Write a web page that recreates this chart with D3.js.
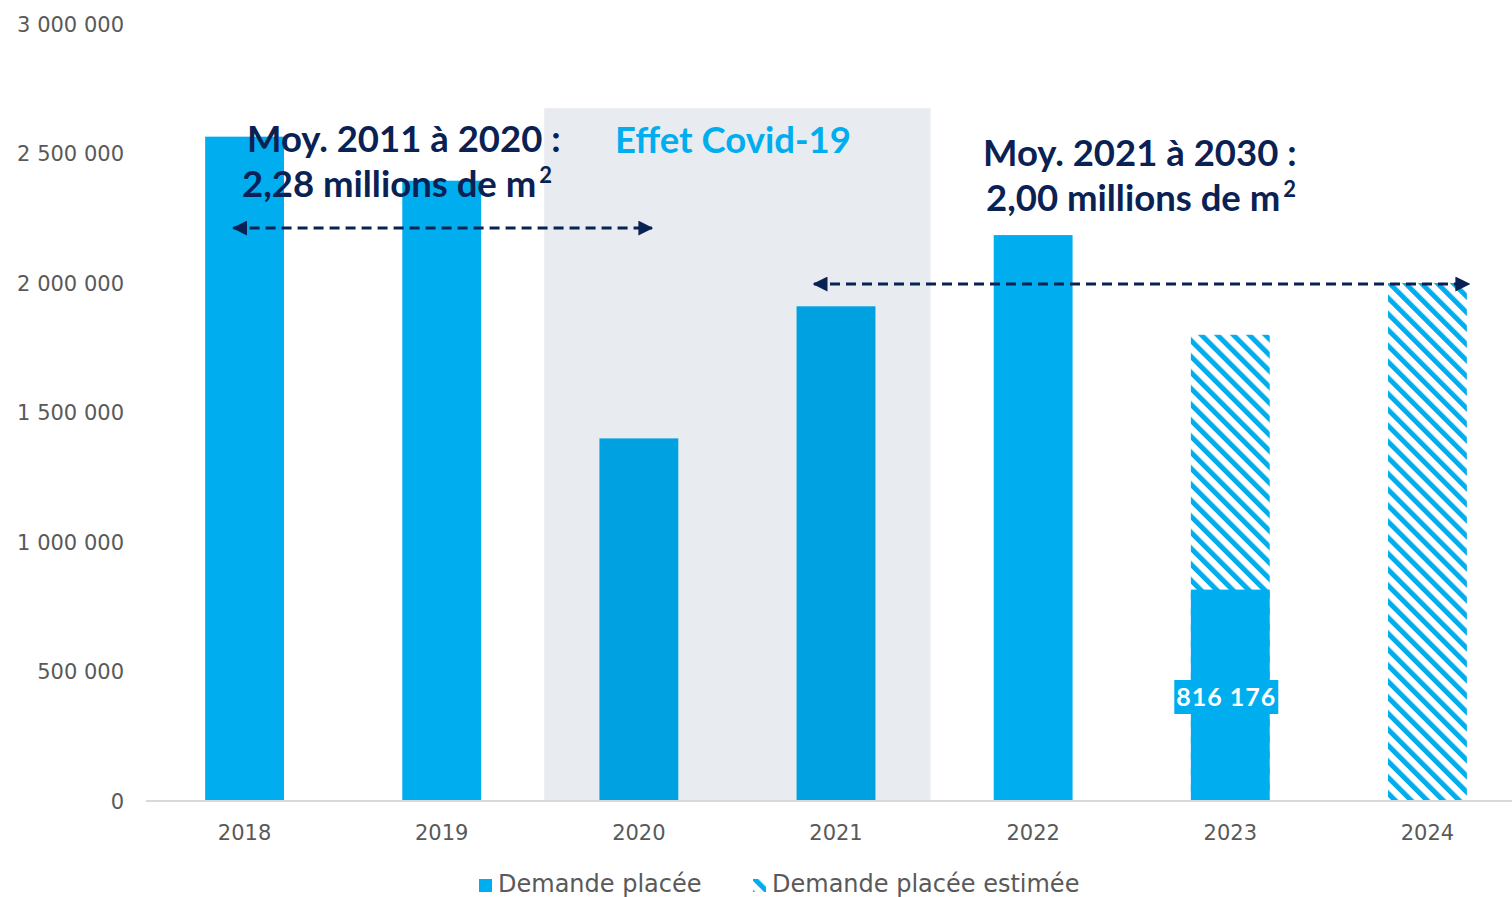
<!DOCTYPE html>
<html>
<head>
<meta charset="utf-8">
<script src="https://cdn.jsdelivr.net/npm/d3@7"></script>
<style>
  html, body { margin: 0; padding: 0; background: #fff; }
  svg { display: block; }
  .tick text { font-family: "DejaVu Sans", sans-serif; fill: #595959; }
</style>
</head>
<body>
<svg id="chart"></svg>
<script>
// data
const years = ['2018', '2019', '2020', '2021', '2022', '2023', '2024'];
const demande = [2565000, 2395000, 1400000, 1910000, 2185000, 816176, null];
const estimee = [null, null, null, null, null, 1800000, 2000000];
const covidYears = ['2020', '2021'];
const yTicks = [0, 500000, 1000000, 1500000, 2000000, 2500000, 3000000];
const labelled = [{ year: '2023', value: 816176 }];

const width = 1512;
const height = 897;
const margin = { top: 24, right: -14, bottom: 96, left: 146 };

const blue = '#00aeef';
const navy = '#0a2253';

const fr = d3.formatLocale({ decimal: ',', thousands: ' ', grouping: [3], currency: ['', ' €'] });
const fmt = fr.format(',d');

const svg = d3.select('#chart')
    .attr('width', width)
    .attr('height', height);

const defs = svg.append('defs');
defs.append('pattern')
    .attr('id', 'hatch')
    .attr('patternUnits', 'userSpaceOnUse')
    .attr('width', 11.3)
    .attr('height', 11.3)
    .attr('patternTransform', 'rotate(-45)')
  .append('rect')
    .attr('x', 0)
    .attr('y', 0)
    .attr('width', 5)
    .attr('height', 11.3)
    .attr('fill', blue);

defs.append('marker')
    .attr('id', 'arrow')
    .attr('viewBox', '0 0 10 10')
    .attr('refX', 9)
    .attr('refY', 5)
    .attr('markerWidth', 5)
    .attr('markerHeight', 5)
    .attr('markerUnits', 'strokeWidth')
    .attr('orient', 'auto-start-reverse')
  .append('path')
    .attr('d', 'M0,0 L10,5 L0,10 z')
    .attr('fill', navy);

const x = d3.scaleBand()
    .domain(years)
    .range([margin.left, width - margin.right])
    .paddingInner(0.6)
    .paddingOuter(0.3);

const y = d3.scaleLinear()
    .domain([0, 3000000])
    .range([height - margin.bottom, margin.top]);

// axes
const yAxis = d3.axisLeft(y)
    .tickValues(yTicks)
    .tickFormat(fmt)
    .tickSize(0)
    .tickPadding(22);

svg.append('g')
    .attr('transform', 'translate(' + margin.left + ',0)')
    .call(yAxis)
    .call(g => g.select('.domain').remove())
    .call(g => g.selectAll('text').attr('font-size', 21).attr('dy', '0.35em'));

const xAxis = d3.axisBottom(x).tickSize(0).tickPadding(24);

const bars = svg.append('g');

// estimated (hatched) bars
bars.selectAll('rect.est')
    .data(years.map((d, i) => ({ year: d, value: estimee[i] })).filter(d => d.value != null))
  .enter().append('rect')
    .attr('class', 'est')
    .attr('x', d => x(d.year))
    .attr('width', x.bandwidth())
    .attr('y', d => y(d.value))
    .attr('height', d => y(0) - y(d.value))
    .attr('fill', 'url(#hatch)');

// actual bars
bars.selectAll('rect.bar')
    .data(years.map((d, i) => ({ year: d, value: demande[i] })).filter(d => d.value != null))
  .enter().append('rect')
    .attr('class', 'bar')
    .attr('x', d => x(d.year))
    .attr('width', x.bandwidth())
    .attr('y', d => y(d.value))
    .attr('height', d => y(0) - y(d.value))
    .attr('fill', blue);

// covid shading, over the bars
const covidTop = 2675000;
const covidX0 = x(covidYears[0]) - x.step() * 0.28;
const covidX1 = x(covidYears[covidYears.length - 1]) + x.bandwidth() + x.step() * 0.28;
svg.append('rect')
    .attr('x', covidX0)
    .attr('y', y(covidTop))
    .attr('width', covidX1 - covidX0)
    .attr('height', y(0) - y(covidTop))
    .attr('fill', 'rgb(0,33,89)')
    .attr('fill-opacity', 0.09);

svg.append('g')
    .attr('transform', 'translate(0,' + y(0) + ')')
    .call(xAxis)
    .call(g => g.select('.domain')
        .attr('d', 'M' + margin.left + ',0H' + width)
        .attr('stroke', '#d9d9d9')
        .attr('stroke-width', 2))
    .call(g => g.selectAll('text').attr('font-size', 21));

// value label
const lab = svg.append('g').selectAll('g')
    .data(labelled)
  .enter().append('g')
    .attr('transform', d => 'translate(' + (x(d.year) + x.bandwidth() / 2 - 4) + ',' + (y(0) - 104) + ')');
lab.append('rect')
    .attr('x', -52)
    .attr('y', -17)
    .attr('width', 104)
    .attr('height', 34)
    .attr('fill', blue);
lab.append('text')
    .attr('text-anchor', 'middle')
    .attr('dy', '0.36em')
    .attr('font-family', 'Lato, sans-serif')
    .attr('font-weight', 700)
    .attr('font-size', 25)
    .attr('letter-spacing', 1)
    .attr('fill', '#fff')
    .text(d => fmt(d.value));

// average arrows
const arrows = [
  { x0: x('2018') + x.bandwidth() / 2 - 11, x1: x('2020') + x.bandwidth() / 2 + 13, value: 2212000 },
  { x0: x('2021') + x.bandwidth() / 2 - 22, x1: x('2024') + x.bandwidth() + 2, value: 1996000 }
];
svg.append('g').selectAll('line')
    .data(arrows)
  .enter().append('line')
    .attr('x1', d => d.x0)
    .attr('x2', d => d.x1)
    .attr('y1', d => y(d.value))
    .attr('y2', d => y(d.value))
    .attr('stroke', navy)
    .attr('stroke-width', 3)
    .attr('stroke-dasharray', '10 6')
    .attr('marker-start', 'url(#arrow)')
    .attr('marker-end', 'url(#arrow)');

// annotations
const note = (tx, ty, lines, color) => {
  const t = svg.append('text')
      .attr('font-family', 'Lato, sans-serif')
      .attr('font-weight', 700)
      .attr('font-size', 36.5)
      .attr('fill', color);
  lines.forEach((l, i) => {
    const ts = t.append('tspan').attr('x', tx[i]).attr('y', ty + i * 45);
    ts.append('tspan').text(l.text);
    if (l.sup) ts.append('tspan').attr('font-size', 22).attr('dx', 3).attr('dy', -14).text(l.sup);
  });
};
note([247, 242], 152, [{ text: 'Moy. 2011 à 2020 :' }, { text: '2,28 millions de m', sup: '2' }], navy);
note([615], 153, [{ text: 'Effet Covid-19' }], blue);
note([983, 986], 166, [{ text: 'Moy. 2021 à 2030 :' }, { text: '2,00 millions de m', sup: '2' }], navy);

// legend
const legend = svg.append('g')
    .attr('font-family', 'DejaVu Sans, sans-serif')
    .attr('font-size', 24)
    .attr('fill', '#595959');
const items = [
  { label: 'Demande placée', fill: blue, x: 479 },
  { label: 'Demande placée estimée', fill: 'url(#hatch)', x: 753 }
];
items.forEach(it => {
  legend.append('rect')
      .attr('x', it.x)
      .attr('y', 879)
      .attr('width', 13)
      .attr('height', 13)
      .attr('fill', it.fill);
  legend.append('text')
      .attr('x', it.x + 19)
      .attr('y', 892)
      .text(it.label);
});
</script>
</body>
</html>
